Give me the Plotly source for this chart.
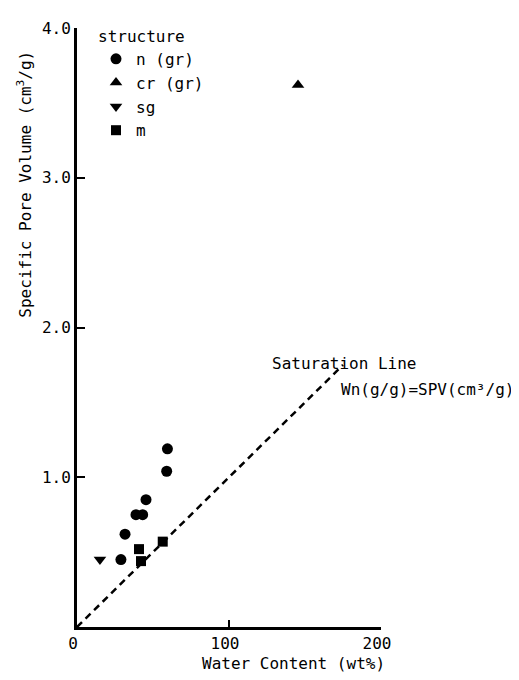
import plotly.graph_objects as go

# ---- data ----
n_x = [59.5, 59.0, 45.4, 38.8, 43.2, 31.6, 28.9]
n_y = [1.19, 1.04, 0.85, 0.75, 0.75, 0.62, 0.45]
cr_x = [145.4]
cr_y = [3.62]
sg_x = [15.1]
sg_y = [0.45]
m_x = [40.8, 42.1, 56.4]
m_y = [0.52, 0.44, 0.57]
sat_x = [0, 175]
sat_y = [0, 1.75]

x_ticks = [0, 100, 200]
x_ticklabels = ["0", "100", "200"]
y_ticks = [1, 2, 3, 4]
y_ticklabels = ["1.0", "2.0", "3.0", "4.0"]

FONT = "DejaVu Sans Mono"
BLACK = "#000000"

# page body has an 8px default margin, so the figure is sized to fit the window
W, H = 511, 672
L, T = 69, 11
PW, PH = 304, 608

fig = go.Figure()
fig.add_trace(go.Scatter(x=sat_x, y=sat_y, mode="lines", showlegend=False,
                         line=dict(color=BLACK, width=2.5, dash="7px,5px")))
fig.add_trace(go.Scatter(x=n_x, y=n_y, mode="markers", name="n (gr)",
                         marker=dict(symbol="circle", size=11, color=BLACK)))
fig.add_trace(go.Scatter(x=cr_x, y=cr_y, mode="markers", name="cr (gr)",
                         marker=dict(symbol="triangle-up", size=11, color=BLACK)))
fig.add_trace(go.Scatter(x=sg_x, y=sg_y, mode="markers", name="sg",
                         marker=dict(symbol="triangle-down", size=11, color=BLACK)))
fig.add_trace(go.Scatter(x=m_x, y=m_y, mode="markers", name="m",
                         marker=dict(symbol="square", size=10, color=BLACK)))


def px_x(p):
    return (p - 77) / PW


def px_y(p):
    return (627 - p) / PH


fig.update_layout(
    width=W, height=H,
    margin=dict(l=L, r=W - L - PW, t=T, b=H - T - PH),
    paper_bgcolor="white", plot_bgcolor="white",
    font=dict(family=FONT, size=16, color=BLACK),
    legend=dict(
        x=px_x(96), y=px_y(12), xanchor="left", yanchor="top",
        bgcolor="rgba(0,0,0,0)", borderwidth=0,
        title=dict(text="structure", font=dict(family=FONT, size=16)),
        font=dict(family=FONT, size=16),
        itemwidth=30,
    ),
    xaxis=dict(
        range=[0, 200], tickvals=x_ticks, ticktext=x_ticklabels,
        ticks="inside", ticklen=7, tickwidth=2, tickcolor=BLACK,
        showline=True, linewidth=3, linecolor=BLACK,
        showgrid=False, zeroline=False,
        tickfont=dict(family=FONT, size=16),
        ticklabelshift=-4,
    ),
    yaxis=dict(
        range=[0, 4], tickvals=y_ticks, ticktext=y_ticklabels,
        ticks="inside", ticklen=8, tickwidth=2, tickcolor=BLACK,
        showline=True, linewidth=3, linecolor=BLACK,
        showgrid=False, zeroline=False,
        tickfont=dict(family=FONT, size=16),
    ),
    annotations=[
        dict(text="Water Content (wt%)", xref="paper", yref="paper",
             x=px_x(293), y=px_y(664), showarrow=False,
             xanchor="center", yanchor="middle", font=dict(size=16)),
        dict(text="Specific Pore Volume (cm<sup>3</sup>/g)", xref="paper", yref="paper",
             x=px_x(25), y=px_y(178), showarrow=False, textangle=-90,
             xanchor="center", yanchor="middle", font=dict(size=16)),
        dict(text="Saturation Line", xref="paper", yref="paper",
             x=px_x(270), y=px_y(360), showarrow=False,
             xanchor="left", yanchor="middle", font=dict(size=16)),
        dict(text="Wn(g/g)=SPV(cm³/g)", xref="paper", yref="paper",
             x=px_x(339), y=px_y(386), showarrow=False,
             xanchor="left", yanchor="middle", font=dict(size=16)),
    ],
)

fig.write_html("out.html")
